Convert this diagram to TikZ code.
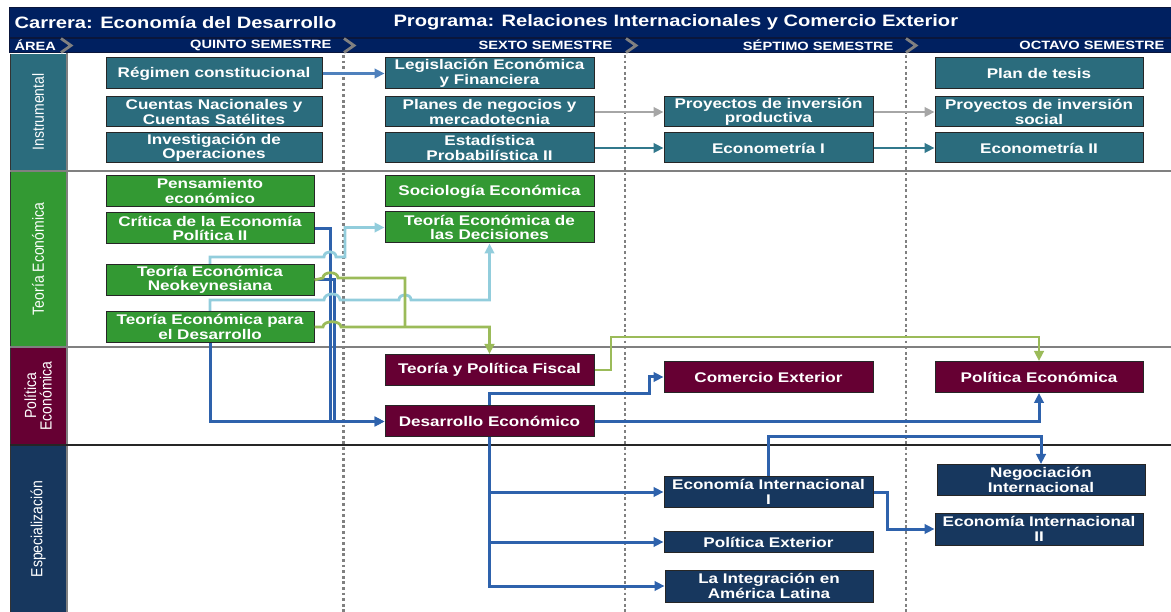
\documentclass[tikz,border=0pt]{standalone}
\usepackage{fontspec}
\setmainfont{Liberation Sans}
\newfontfamily\bx[FakeStretch=1.22]{Liberation Sans}
\usetikzlibrary{arrows.meta}
\definecolor{hdr}{RGB}{0,32,96}
\definecolor{hdrline}{RGB}{10,22,60}
\definecolor{tealc}{RGB}{43,108,125}
\definecolor{greenc}{RGB}{51,153,51}
\definecolor{maroonc}{RGB}{102,0,51}
\definecolor{navyc}{RGB}{23,55,94}
\definecolor{bluec}{RGB}{46,98,172}
\definecolor{steelc}{RGB}{79,129,189}
\definecolor{lbluec}{RGB}{146,205,220}
\definecolor{lgreenc}{RGB}{155,187,89}
\definecolor{grayc}{RGB}{166,166,166}
\definecolor{tarrow}{RGB}{49,120,140}
\definecolor{sepgray}{RGB}{128,128,128}
\begin{document}
\begin{tikzpicture}[x=1pt,y=-1pt,
  box/.style={draw=black!85, line width=1pt, text=white, align=center, inner sep=0pt,
    font=\bx\bfseries\fontsize{14}{14.5}\selectfont, minimum height=31},
  tbox/.style={box, fill=tealc},
  gbox/.style={box, fill=greenc},
  mbox/.style={box, fill=maroonc},
  nbox/.style={box, fill=navyc},
  arealab/.style={text=white, rotate=90, align=center, font=\fontsize{14}{15.5}\selectfont},
  semlab/.style={text=white, anchor=east, font=\bx\bfseries\fontsize{12}{13}\selectfont},
  ttl/.style={text=white, anchor=west, font=\bx\bfseries\fontsize{16.5}{18}\selectfont},
  chev/.style={draw=sepgray, line width=2.8pt},
  dots/.style={draw=sepgray, line width=2.8pt, dash pattern=on 2.8pt off 2.8pt},
  tip/.style={-{Triangle[length=10pt,width=9.5pt]}},
  cblue/.style={draw=bluec, line width=3pt, tip},
  clblue/.style={draw=lbluec, line width=2.8pt, tip},
  cgreen/.style={draw=lgreenc, line width=2.8pt, tip},
  cgray/.style={draw=grayc, line width=2.8pt, tip},
  cteal/.style={draw=tarrow, line width=2.8pt, tip},
  csteel/.style={draw=steelc, line width=2.8pt, tip}
]
\useasboundingbox (0,0) rectangle (1171,612);
% header
\fill[hdr] (9,8) rectangle (1171,53);
\draw[hdrline, line width=1.2pt] (9,38) -- (1171,38);
\draw[hdrline, line width=1pt] (9,8) rectangle (1171,53);
\node[ttl] (t1) at (11,22.5) {Carrera: Economía del Desarrollo};
\node[ttl] (t2) at (390,22.5) {Programa: Relaciones Internacionales y Comercio Exterior};
\node[semlab, anchor=west] (s0) at (11,45.5) {ÁREA};
\node[semlab] (s1) at (335,45.5) {QUINTO SEMESTRE};
\node[semlab] (s2) at (616,45.5) {SEXTO SEMESTRE};
\node[semlab] (s3) at (897,45.5) {SÉPTIMO SEMESTRE};
\node[semlab] (s4) at (1168,45.5) {OCTAVO SEMESTRE};
\foreach \cx in {61,344,626,906} {
  \draw[chev] (\cx,38.5) -- (\cx+10,45.5) -- (\cx,52.5);
}
% area column
\fill[tealc] (10,54) rectangle (66,170);
\fill[greenc] (10,172) rectangle (66,346);
\fill[maroonc] (10,348) rectangle (66,444);
\fill[navyc] (10,446) rectangle (66,612);
\draw[black!80, line width=1pt] (10,54) -- (10,612);
\draw[sepgray, line width=1.5pt] (67,53) -- (67,612);
\node[arealab] (a1) at (38,112) {\scalebox{1}[1.15]{Instrumental}};
\node[arealab] (a2) at (38,259) {\scalebox{1}[1.15]{Teoría Económica}};
\node[arealab] (a3) at (38,396) {\scalebox{1}[1.15]{Política}\\\scalebox{1}[1.15]{Económica}};
\node[arealab] (a4) at (38,529) {\scalebox{1}[1.15]{Especialización}};
% row separators
\draw[sepgray, line width=2pt] (10,171) -- (1171,171);
\draw[sepgray, line width=2pt] (10,347) -- (1171,347);
\draw[black!85, line width=2pt] (10,445) -- (1171,445);
% dotted column separators
\foreach \cx in {343.5,625,906} {
  \draw[dots] (\cx,55) -- (\cx,612);
}
% Instrumental
\node[tbox, minimum width=216] (reg) at (214,73.5) {Régimen constitucional};
\node[tbox, minimum width=216, minimum height=30] (cue) at (214,112) {Cuentas Nacionales y\\Cuentas Satélites};
\node[tbox, minimum width=216, minimum height=30] (inv) at (214,148) {Investigación de\\Operaciones};
\node[tbox, minimum width=209] (leg) at (489.5,73.5) {Legislación Económica\\y Financiera};
\node[tbox, minimum width=209, minimum height=30] (pla) at (489.5,112) {Planes de negocios y\\mercadotecnia};
\node[tbox, minimum width=209, minimum height=30] (est) at (489.5,148) {Estadística\\Probabilística II};
\node[tbox, minimum width=209, minimum height=30] (ppr) at (768.5,112) {Proyectos de inversión\\productiva};
\node[tbox, minimum width=209, minimum height=30] (ec1) at (768.5,148) {Econometría I};
\node[tbox, minimum width=208] (tes) at (1039,73.5) {Plan de tesis};
\node[tbox, minimum width=208, minimum height=30] (pso) at (1039,112) {Proyectos de inversión\\social};
\node[tbox, minimum width=208, minimum height=30] (ec2) at (1039,148) {Econometría II};
% Teoría Económica
\node[gbox, minimum width=208] (pen) at (210,191) {Pensamiento\\económico};
\node[gbox, minimum width=208] (cri) at (210,228.5) {Crítica de la Economía\\Política II};
\node[gbox, minimum width=208] (neo) at (210,280) {Teoría Económica\\Neokeynesiana};
\node[gbox, minimum width=208] (ted) at (210,327) {Teoría Económica para\\el Desarrollo};
\node[gbox, minimum width=209] (soc) at (489.5,191.5) {Sociología Económica};
\node[gbox, minimum width=209] (dec) at (489.5,227.5) {Teoría Económica de\\las Decisiones};
% Política Económica
\node[mbox, minimum width=209] (fis) at (489.5,370) {Teoría y Política Fiscal};
\node[mbox, minimum width=209] (des) at (489.5,421.5) {Desarrollo Económico};
\node[mbox, minimum width=209] (com) at (768.5,377) {Comercio Exterior};
\node[mbox, minimum width=208] (pec) at (1039,377) {Política Económica};
% Especialización
\node[nbox, minimum width=209] (ei1) at (768.5,492) {Economía Internacional\\I};
\node[nbox, minimum width=209, minimum height=21] (pex) at (768.5,542) {Política Exterior};
\node[nbox, minimum width=208, minimum height=32] (ial) at (769,586) {La Integración en\\América Latina};
\node[nbox, minimum width=208] (neg) at (1041,480) {Negociación\\Internacional};
\node[nbox, minimum width=208, minimum height=32] (ei2) at (1039,529) {Economía Internacional\\II};
% instrumental connectors
\draw[csteel] (reg.east) -- (leg.west);
\draw[cgray] (pla.east) -- (ppr.west);
\draw[cgray] (ppr.east) -- (pso.west);
\draw[cteal] (est.east) -- (ec1.west);
\draw[cteal] (ec1.east) -- (ec2.west);
% blue into Desarrollo Económico
\draw[cblue] (cri.east) -- (330,228.5) -- (330,421.5) -- (des.west);
\draw[cblue, -] (neo.east) -- (334,280) -- (334,421.5);
\draw[cblue] (ted.south) |- (des.west);
% light blue
\draw[clblue] (neo.north) -- (210,257) -- (324,257) .. controls (324,250) and (336,250) .. (336,257)
  -- (345,257) -- (345,227.5) -- (dec.west);
\draw[clblue] (ted.north) -- (210,300) -- (324,300) .. controls (324,292) and (340,292) .. (340,300)
  -- (399,300) .. controls (399,293) and (411,293) .. (411,300) -- (489.5,300) -- (dec.south);
% green
\draw[cgreen, -] (neo.east) -- (323,278) .. controls (323,271) and (338,271) .. (338,278) -- (405,278) -- (405,327);
\draw[cgreen] (ted.east) -- (323,327) .. controls (323,320) and (341,320) .. (341,327) -- (489.5,327) -- (fis.north);
\draw[cgreen] (fis.east) -- (611,370) -- (611,337) -| (pec.north);
% blue from Desarrollo Económico
\draw[cblue] (des.north) -- (489.5,394) -- (649,394) |- (com.west);
\draw[cblue] (des.east) -| (pec.south);
\draw[cblue] (des.south) |- (ial.west);
\draw[cblue] (des.south) |- (ei1.west);
\draw[cblue] (des.south) |- (pex.west);
\draw[cblue] (ei1.north) |- (900,437) -| (neg.north);
\draw[cblue] (ei1.east) -- (887,492) |- (ei2.west);
\end{tikzpicture}
\end{document}
